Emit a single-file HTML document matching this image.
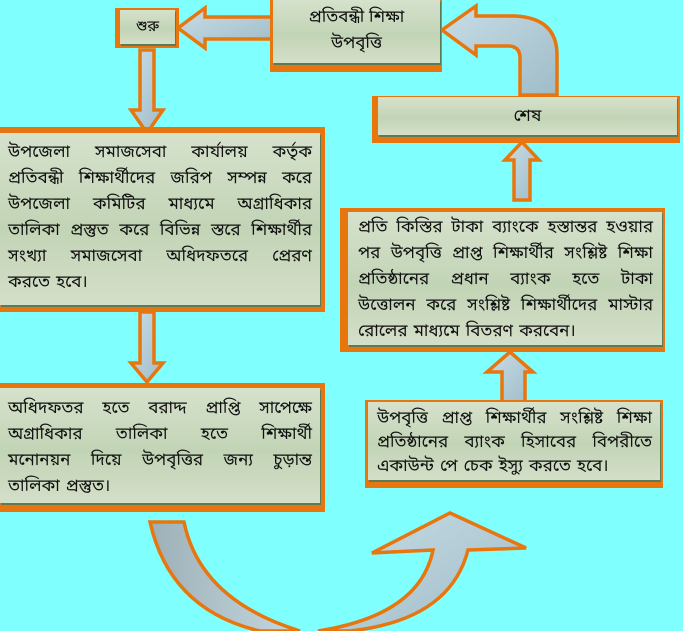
<!DOCTYPE html>
<html><head><meta charset="utf-8">
<style>
html,body{margin:0;padding:0}
body{width:683px;height:631px;background:#80ffff;position:relative;overflow:hidden;font-family:"Liberation Sans","Noto Sans Bengali","Lohit Bengali","FreeSans",sans-serif;color:#111}
.o{position:absolute;background:#e8760e}
.b{position:absolute;background:linear-gradient(#d6e2cc,#c2d4b6 55%,#d4dfc8);box-shadow:1px 2px 0 #5a7a5a;box-sizing:border-box}
.t{position:absolute;font-size:17px;line-height:26px}
.t div{white-space:nowrap;display:flex;justify-content:space-between}
.t div.l{justify-content:flex-start;gap:6px}
</style></head><body>
<svg width="683" height="631" style="position:absolute;left:0;top:0">
<defs>
<linearGradient id="g" x1="0" y1="0" x2="1" y2="1"><stop offset="0" stop-color="#c8dde6"/><stop offset="1" stop-color="#9fbcc8"/></linearGradient>
<linearGradient id="g2" x1="0" y1="0" x2="1" y2="0"><stop offset="0" stop-color="#9db0b8"/><stop offset="1" stop-color="#c5d8e0"/></linearGradient>
</defs>
<g stroke="#e8760e" stroke-width="3.5" stroke-linejoin="miter">
<polygon points="272,17 205,17 205,8 178,28 205,48 205,39 272,39" fill="url(#g)"/>
<path d="M557,95 L557,55 Q557,18 515,16 L476,16 L476,6 L442,30 L476,55 L476,46 L508,46 Q520,46 520,58 L520,95 Z" fill="url(#g)"/>
<polygon points="140,50 154,50 154,110 163,110 147,133 131,110 140,110" fill="url(#g)"/>
<polygon points="514,200 530,200 530,160 539,160 522,142 505,160 514,160" fill="url(#g)"/>
<polygon points="140,312 154,312 154,363 163,363 147,382 131,363 140,363" fill="url(#g)"/>
<polygon points="502,402 525,402 525,372 533,372 510,352 487,372 502,372" fill="url(#g)"/>
<path d="M150,522 L184,522 Q200,600 300,631 L260,631 Q170,610 150,522 Z" fill="url(#g2)"/>
<path d="M318,631 Q420,615 433,550 L372,553 L450,513 L526,548 L468,550 Q450,620 350,631 Z" fill="url(#g)"/>
</g>
</svg>

<div class="o" style="left:115px;top:8px;width:64px;height:40px"></div>
<div class="b" style="left:120px;top:10px;width:55px;height:34px;text-align:center;font-size:15px;line-height:34px">শুরু</div>

<div class="o" style="left:270px;top:0;width:172px;height:72px"></div>
<div class="b" style="left:273px;top:0;width:167px;height:63px;text-align:center;font-size:17px;line-height:26px;padding-top:4px">প্রতিবন্ধী শিক্ষা<br>উপবৃত্তি</div>

<div class="o" style="left:372px;top:96px;width:308px;height:47px"></div>
<div class="b" style="left:378px;top:97px;width:299px;height:38px;text-align:center;font-size:17px;line-height:38px">শেষ</div>

<div class="o" style="left:0;top:127px;width:325px;height:185px"></div>
<div class="b" style="left:0;top:133px;width:320px;height:172px"></div>
<div class="t" style="left:8px;top:139px;width:304px">
<div><span>উপজেলা</span><span>সমাজসেবা</span><span>কার্যালয়</span><span>কর্তৃক</span></div>
<div><span>প্রতিবন্ধী</span><span>শিক্ষার্থীদের</span><span>জরিপ</span><span>সম্পন্ন</span><span>করে</span></div>
<div><span>উপজেলা</span><span>কমিটির</span><span>মাধ্যমে</span><span>অগ্রাধিকার</span></div>
<div><span>তালিকা</span><span>প্রস্তুত</span><span>করে</span><span>বিভিন্ন</span><span>স্তরে</span><span>শিক্ষার্থীর</span></div>
<div><span>সংখ্যা</span><span>সমাজসেবা</span><span>অধিদফতরে</span><span>প্রেরণ</span></div>
<div class="l"><span>করতে</span><span>হবে।</span></div>
</div>

<div class="o" style="left:340px;top:208px;width:325px;height:144px"></div>
<div class="b" style="left:348px;top:212px;width:314px;height:133px"></div>
<div class="t" style="left:358px;top:214px;width:295px">
<div><span>প্রতি</span><span>কিস্তির</span><span>টাকা</span><span>ব্যাংকে</span><span>হস্তান্তর</span><span>হওয়ার</span></div>
<div><span>পর</span><span>উপবৃত্তি</span><span>প্রাপ্ত</span><span>শিক্ষার্থীর</span><span>সংশ্লিষ্ট</span><span>শিক্ষা</span></div>
<div><span>প্রতিষ্ঠানের</span><span>প্রধান</span><span>ব্যাংক</span><span>হতে</span><span>টাকা</span></div>
<div><span>উত্তোলন</span><span>করে</span><span>সংশ্লিষ্ট</span><span>শিক্ষার্থীদের</span><span>মাস্টার</span></div>
<div class="l"><span>রোলের</span><span>মাধ্যমে</span><span>বিতরণ</span><span>করবেন।</span></div>
</div>

<div class="o" style="left:0;top:383px;width:325px;height:129px"></div>
<div class="b" style="left:0;top:388px;width:320px;height:115px"></div>
<div class="t" style="left:8px;top:395px;width:304px">
<div><span>অধিদফতর</span><span>হতে</span><span>বরাদ্দ</span><span>প্রাপ্তি</span><span>সাপেক্ষে</span></div>
<div><span>অগ্রাধিকার</span><span>তালিকা</span><span>হতে</span><span>শিক্ষার্থী</span></div>
<div><span>মনোনয়ন</span><span>দিয়ে</span><span>উপবৃত্তির</span><span>জন্য</span><span>চুড়ান্ত</span></div>
<div class="l"><span>তালিকা</span><span>প্রস্তুত।</span></div>
</div>

<div class="o" style="left:365px;top:400px;width:298px;height:88px"></div>
<div class="b" style="left:368px;top:402px;width:292px;height:78px"></div>
<div class="t" style="left:377px;top:406px;width:275px;line-height:24px">
<div><span>উপবৃত্তি</span><span>প্রাপ্ত</span><span>শিক্ষার্থীর</span><span>সংশ্লিষ্ট</span><span>শিক্ষা</span></div>
<div><span>প্রতিষ্ঠানের</span><span>ব্যাংক</span><span>হিসাবের</span><span>বিপরীতে</span></div>
<div class="l"><span>একাউন্ট</span><span>পে</span><span>চেক</span><span>ইস্যু</span><span>করতে</span><span>হবে।</span></div>
</div>
</body></html>
